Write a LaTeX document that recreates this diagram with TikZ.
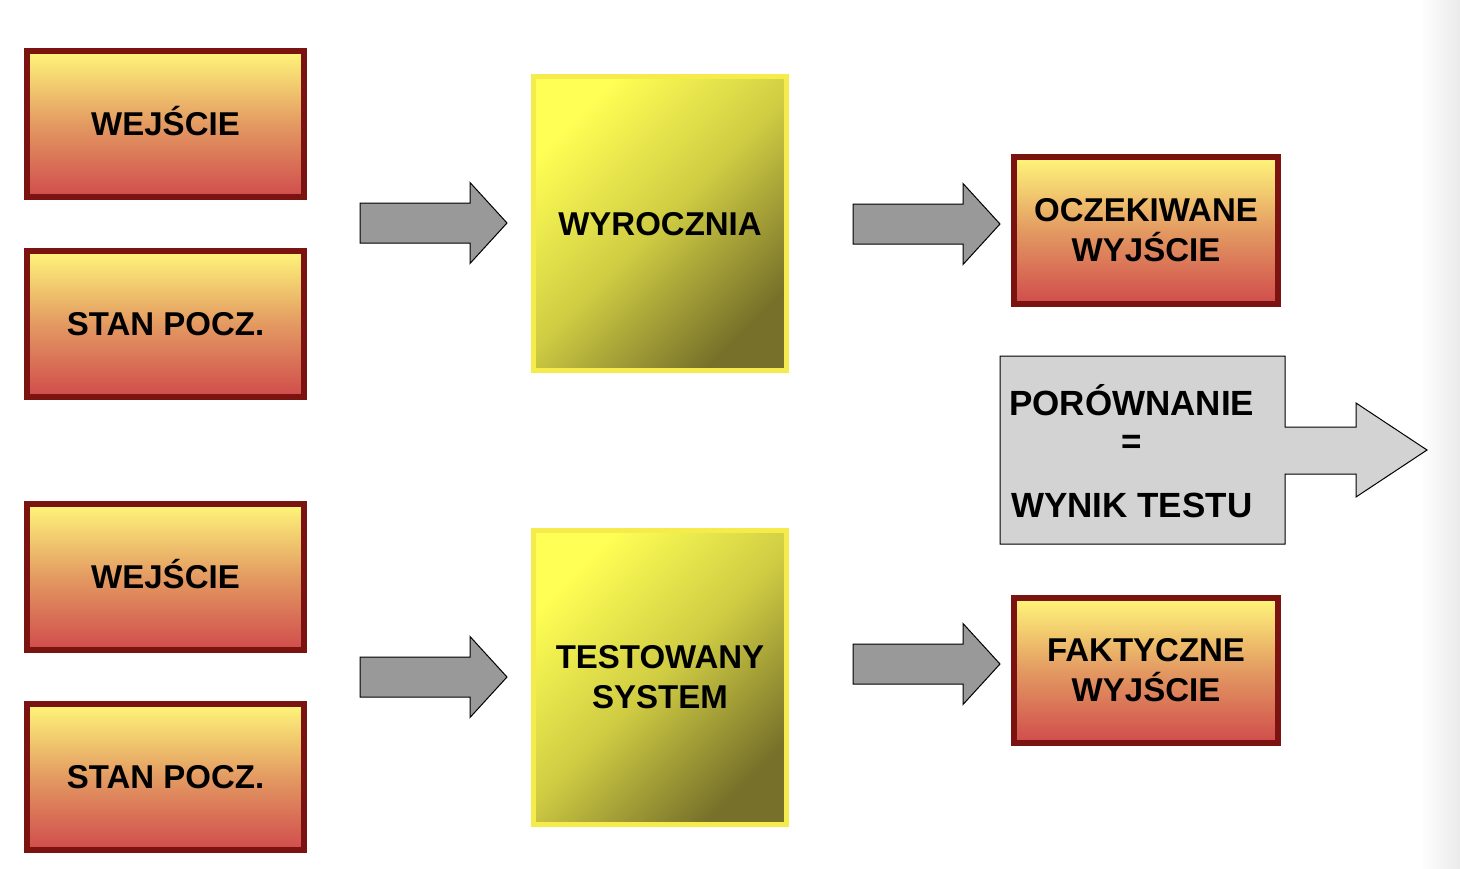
\documentclass[tikz,border=0pt]{standalone}
\usepackage{fontspec}
\setmainfont{Liberation Sans}
\definecolor{boxred}{HTML}{7B1410}
\definecolor{rtop}{HTML}{FFF67A}
\definecolor{rmid}{HTML}{E39A62}
\definecolor{rbot}{HTML}{D04C4C}
\definecolor{ybord}{HTML}{F5EC4C}
\definecolor{ytop}{HTML}{FFFF55}
\definecolor{ymid}{HTML}{CFCC43}
\definecolor{ybot}{HTML}{76702A}
\definecolor{agrey}{HTML}{999999}
\definecolor{cgrey}{HTML}{D3D3D3}
\begin{document}
\begin{tikzpicture}[x=1pt,y=-1pt,
  redbox/.style={draw=boxred, line width=6pt, top color=rtop, bottom color=rbot, middle color=rmid,
    minimum width=277pt, minimum height=146pt, inner sep=0pt, align=center,
    font=\fontsize{33}{40}\selectfont\bfseries},
  oneline/.style={text height=23.6pt, text depth=0pt},
  yelbox/.style={draw=ybord, line width=5pt, top color=ytop, bottom color=ybot, middle color=ymid, shading angle=45,
    minimum width=253pt, minimum height=294pt, inner sep=0pt, align=center,
    font=\fontsize{33}{40}\selectfont\bfseries},
  blockarrow/.style={fill=agrey, draw=black, line width=1pt, line join=miter},
  cmptxt/.style={inner sep=0pt, font=\fontsize{35}{42}\selectfont\bfseries},
  barrow/.pic={\draw[blockarrow] (0,-20) -- (110,-20) -- (110,-40.5) -- (147,0) -- (110,40.5) -- (110,20) -- (0,20) -- cycle;}
]
\useasboundingbox (0,0) rectangle (1460,868);
\fill[white] (0,0) rectangle (1460,868);
\shade[left color=white, right color=black!8] (1420,0) rectangle (1460,868);

% left input boxes
\node[redbox, oneline] (in1) at (165.5,124) {WEJŚCIE};
\node[redbox, oneline] (st1) at (165.5,323.5) {STAN POCZ.};
\node[redbox, oneline] (in2) at (165.5,577) {WEJŚCIE};
\node[redbox, oneline] (st2) at (165.5,777) {STAN POCZ.};

% central boxes
\node[yelbox, oneline] (orac) at (660,223.5) {WYROCZNIA};
\node[yelbox] (sut) at (660,677) {TESTOWANY\\SYSTEM};

% output boxes
\node[redbox, minimum width=264pt, minimum height=147pt] (exp) at (1146,230.5) {OCZEKIWANE\\WYJŚCIE};
\node[redbox, minimum width=264pt, minimum height=145pt] (act) at (1146,670.5) {FAKTYCZNE\\WYJŚCIE};

% block arrows
\pic at (360,223) {barrow};
\pic at (360,677) {barrow};
\pic at (853,224) {barrow};
\pic at (853,664) {barrow};

% comparison shape
\draw[fill=cgrey, draw=black, line width=1pt, line join=miter]
  (1000,356) -- (1285,356) -- (1285,427) -- (1356,427) -- (1356,403) -- (1427,450)
  -- (1356,497) -- (1356,474) -- (1285,474) -- (1285,544) -- (1000,544) -- cycle;
\node[cmptxt, anchor=base west] (por) at (1009,415) {PORÓWNANIE};
\node[cmptxt] (eq) at (1132,444) {=};
\node[cmptxt, anchor=base west] (wyn) at (1011,517) {WYNIK TESTU};
\end{tikzpicture}
\end{document}
